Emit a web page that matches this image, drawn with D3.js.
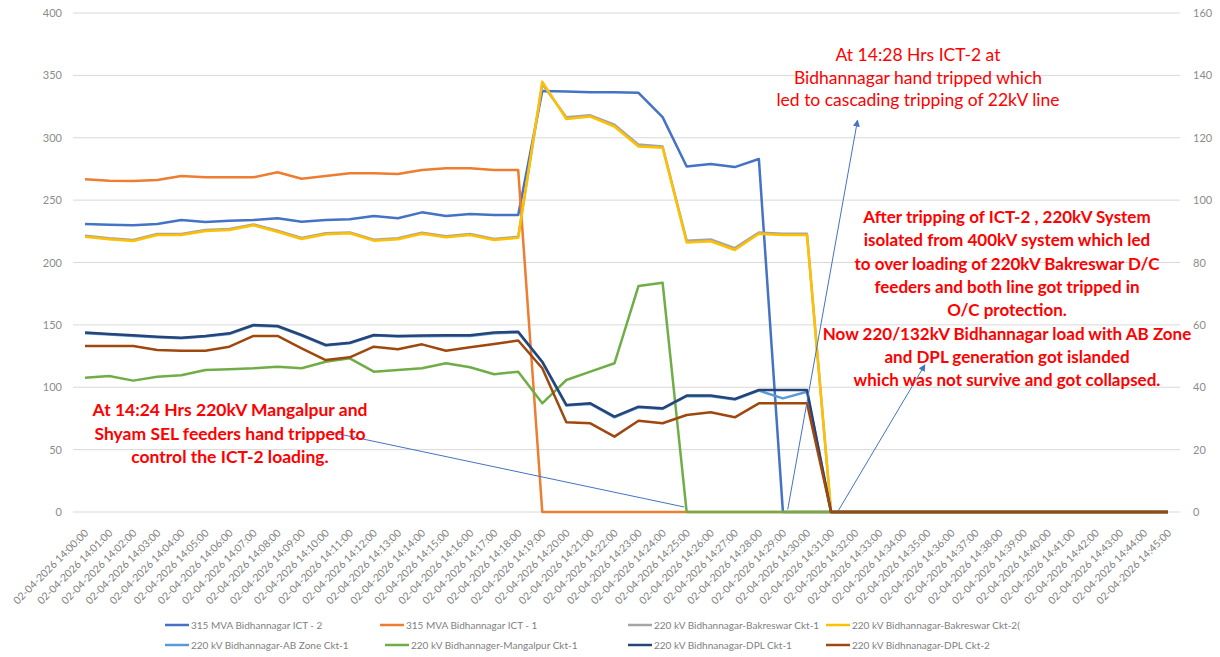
<!DOCTYPE html>
<html>
<head>
<meta charset="utf-8">
<script src="https://cdn.jsdelivr.net/npm/d3@7"></script>
<style>
  html, body { margin: 0; padding: 0; background: #fff; }
  svg { display: block; font-family: Lato, "Liberation Sans", sans-serif; }
</style>
</head>
<body>
<svg id="chart" width="1220" height="657"></svg>
<script>
const categories = [
  "02-04-2026 14:00:00","02-04-2026 14:01:00","02-04-2026 14:02:00","02-04-2026 14:03:00",
  "02-04-2026 14:04:00","02-04-2026 14:05:00","02-04-2026 14:06:00","02-04-2026 14:07:00",
  "02-04-2026 14:08:00","02-04-2026 14:09:00","02-04-2026 14:10:00","02-04-2026 14:11:00",
  "02-04-2026 14:12:00","02-04-2026 14:13:00","02-04-2026 14:14:00","02-04-2026 14:15:00",
  "02-04-2026 14:16:00","02-04-2026 14:17:00","02-04-2026 14:18:00","02-04-2026 14:19:00",
  "02-04-2026 14:20:00","02-04-2026 14:21:00","02-04-2026 14:22:00","02-04-2026 14:23:00",
  "02-04-2026 14:24:00","02-04-2026 14:25:00","02-04-2026 14:26:00","02-04-2026 14:27:00",
  "02-04-2026 14:28:00","02-04-2026 14:29:00","02-04-2026 14:30:00","02-04-2026 14:31:00",
  "02-04-2026 14:32:00","02-04-2026 14:33:00","02-04-2026 14:34:00","02-04-2026 14:35:00",
  "02-04-2026 14:36:00","02-04-2026 14:37:00","02-04-2026 14:38:00","02-04-2026 14:39:00",
  "02-04-2026 14:40:00","02-04-2026 14:41:00","02-04-2026 14:42:00","02-04-2026 14:43:00",
  "02-04-2026 14:44:00","02-04-2026 14:45:00"
];

const leftTicks = [0, 50, 100, 150, 200, 250, 300, 350, 400];
const rightTicks = [0, 20, 40, 60, 80, 100, 120, 140, 160];

const ict2 = [230.9,230.3,229.8,230.9,234.1,232.5,233.5,234.1,235.4,232.7,234.1,234.6,237.3,235.4,240.2,237.3,238.9,238.1,238.1,
  337.5,337,336.5,336.5,336,316.5,277,279,276.5,283,
  0,0,0,0,0,0,0,0,0,0,0,0,0,0,0,0,0];
const ict1 = [266.7,265.6,265.3,266.1,269.3,268.3,268.3,268.3,272.3,267.2,269.3,271.5,271.5,270.9,274.1,275.5,275.5,274.1,274.1,
  0,0,0,0,0,0,0,0,0,0,0,0,0,0,0,0,0,0,0,0,0,0,0,0,0,0,0];
const bak1 = [221.5,219.4,218,222.8,222.9,226,226.8,230.5,225.5,219.6,223.4,224.1,218.3,219.4,223.8,221,222.8,218.8,220.7,
  343,316.5,318,310.5,294.5,293,217.5,218.5,211.5,224,223,223,
  0,0,0,0,0,0,0,0,0,0,0,0,0,0,0];
const bak2 = [220.7,218.6,217.2,222,222,225.3,226,229.8,224.7,218.8,222.6,223.4,217.5,218.6,223,220.2,222,218,219.9,
  345,315,317,309,293,292,216,217,210,223,222,222,
  0,0,0,0,0,0,0,0,0,0,0,0,0,0,0];
const abZone = [143.3,142.2,141.1,140,139.2,140.6,142.7,149.4,148.6,141.4,133.4,135.2,141.4,140.6,140.9,141.1,141.1,143.3,144,
  120,85.3,86.6,75.9,83.9,82.6,92.8,92.8,90.1,97.3,91.1,96.4,
  0,0,0,0,0,0,0,0,0,0,0,0,0,0,0];
const mangalpur = [107.7,109,105.3,108.5,109.6,113.8,114.4,115.2,116.5,115.2,120.5,123.2,112.5,113.8,115.2,119.2,116,110.4,112.5,
  87.1,105.8,112.5,119.2,181.2,183.8,
  0,0,0,0,0,0,0,0,0,0,0,0,0,0,0,0,0,0,0,0,0];
const dpl1 = [143.8,142.7,141.6,140.5,139.7,141.1,143.2,149.9,149.1,141.9,133.9,135.7,141.9,141.1,141.4,141.6,141.6,143.8,144.5,
  120.5,85.8,87.1,76.4,84.4,83.1,93.3,93.3,90.6,97.8,97.8,97.8,
  0,0,0,0,0,0,0,0,0,0,0,0,0,0,0];
const dpl2 = [133.1,133.1,133.1,129.9,129.3,129.3,132.5,141.1,141.1,131.2,121.8,124,132.5,130.4,134.4,129.3,132,134.7,137.5,
  115.2,71.9,71.1,60.4,73.2,71.1,77.8,79.9,75.9,87.1,87.1,87.1,
  0,0,0,0,0,0,0,0,0,0,0,0,0,0,0];

const seriesNames = [
  "315 MVA Bidhannagar ICT - 2",
  "315 MVA Bidhannagar ICT - 1",
  "220 kV Bidhannagar-Bakreswar Ckt-1",
  "220 kV Bidhannagar-Bakreswar Ckt-2(",
  "220 kV Bidhannagar-AB Zone Ckt-1",
  "220 kV Bidhannager-Mangalpur Ckt-1",
  "220 kV Bidhnanagar-DPL Ckt-1",
  "220 kV Bidhnanagar-DPL Ckt-2"
];
const seriesValues = [ict2, ict1, bak1, bak2, abZone, mangalpur, dpl1, dpl2];
const seriesColors = ["#4472C4","#ED7D31","#A5A5A5","#FFC000","#5B9BD5","#70AD47","#264478","#9E480E"];

const annTop = ["At 14:28 Hrs ICT-2 at", "Bidhannagar hand tripped which", "led to cascading tripping of 22kV line"];
const annRight = ["After tripping of ICT-2 , 220kV System", "isolated from 400kV system which led",
  "to over loading of 220kV Bakreswar D/C", "feeders and both line got tripped in", "O/C protection.",
  "Now 220/132kV Bidhannagar load with AB Zone", "and DPL generation got islanded",
  "which was not survive and got collapsed."];
const annLeft = ["At 14:24 Hrs 220kV Mangalpur and", "Shyam SEL feeders hand tripped to", "control the ICT-2 loading."];

// ---------- layout ----------
const svg = d3.select("#chart");
const plotL = 73, plotR = 1180, plotT = 13, plotB = 512;

const x = d3.scalePoint().domain(categories).range([plotL, plotR]).padding(0.5);
const y = d3.scaleLinear().domain([0, 400]).range([plotB, plotT]);
const y2 = d3.scaleLinear().domain([0, 160]).range([plotB, plotT]);
const xi = d3.scaleLinear().domain([0, categories.length - 1])
  .range([x(categories[0]), x(categories[categories.length - 1])]);

// gridlines
svg.append("g").selectAll("line").data(leftTicks).join("line")
  .attr("x1", plotL).attr("x2", plotR)
  .attr("y1", d => y(d)).attr("y2", d => y(d))
  .attr("stroke", "#D9D9D9").attr("stroke-width", 1);

// left axis
const gl = svg.append("g").attr("transform", `translate(${plotL},0)`)
  .call(d3.axisLeft(y).tickValues(leftTicks).tickSize(0).tickPadding(11));
gl.select(".domain").remove();
gl.selectAll("text").attr("fill", "#8C8C8C").style("font-size", "11px").style("font-family", "Lato, sans-serif");

// right axis
const gr = svg.append("g").attr("transform", `translate(${plotR},0)`)
  .call(d3.axisRight(y2).tickValues(rightTicks).tickSize(0).tickPadding(13));
gr.select(".domain").remove();
gr.selectAll("text").attr("fill", "#8C8C8C").style("font-size", "11px").style("font-family", "Lato, sans-serif");

// x axis labels
const gx = svg.append("g").attr("transform", `translate(0,${plotB})`)
  .call(d3.axisBottom(x).tickSize(0).tickPadding(0));
gx.select(".domain").remove();
gx.selectAll(".tick text")
  .attr("fill", "#7F7F7F")
  .style("font-size", "10.5px").style("font-family", "Lato, sans-serif")
  .attr("text-anchor", "end")
  .attr("transform", "translate(1,19) rotate(-45)")
  .attr("dy", "0.35em").attr("y", 0).attr("x", 0);

// lines
const line = d3.line().x((d, i) => x(categories[i])).y(d => y(d));
svg.append("g").selectAll("path").data(seriesValues).join("path")
  .attr("d", d => line(d))
  .attr("fill", "none")
  .attr("stroke", (d, i) => seriesColors[i])
  .attr("stroke-width", 2.5)
  .attr("stroke-linejoin", "round");

// arrows
const defs = svg.append("defs");
defs.append("marker").attr("id", "arr").attr("viewBox", "0 0 10 10")
  .attr("refX", 9).attr("refY", 5).attr("markerWidth", 7).attr("markerHeight", 7)
  .attr("orient", "auto-start-reverse")
  .append("path").attr("d", "M0,0 L10,5 L0,10 z").attr("fill", "#4472C4");

const arrows = [
  {x1: 10.2, v1: 64, x2: 24.9, v2: 4, head: false},
  {x1: 29.2, v1: 2, x2: 32.1, v2: 314, head: true},
  {x1: 31.3, v1: 1, x2: 34.9, v2: 118, head: true}
];
svg.append("g").selectAll("line").data(arrows).join("line")
  .attr("x1", d => xi(d.x1)).attr("y1", d => y(d.v1))
  .attr("x2", d => xi(d.x2)).attr("y2", d => y(d.v2))
  .attr("stroke", "#4472C4").attr("stroke-width", 1)
  .attr("marker-end", d => d.head ? "url(#arr)" : null);

// annotations
function block(lines, cx, y0, dy, weight, size) {
  svg.append("g").selectAll("text").data(lines).join("text")
    .attr("x", cx).attr("y", (d, i) => y0 + i * dy)
    .attr("text-anchor", "middle")
    .attr("fill", "#FF0000")
    .style("font-weight", weight)
    .style("font-size", size + "px")
    .style("font-family", "Lato, sans-serif")
    .text(d => d);
}
block(annTop, 918, 61, 22.5, "normal", 17.5);
block(annRight, 1007, 223, 23.3, "bold", 17);
block(annLeft, 230, 416, 23.5, "bold", 17.5);

// legend
const legendPos = [
  {lx: 165, ly: 625}, {lx: 380, ly: 625}, {lx: 628, ly: 625}, {lx: 826, ly: 625},
  {lx: 165, ly: 645}, {lx: 385, ly: 645}, {lx: 628, ly: 645}, {lx: 826, ly: 645}
];
const lg = svg.append("g").selectAll("g").data(seriesNames).join("g")
  .attr("transform", (d, i) => `translate(${legendPos[i].lx},${legendPos[i].ly})`);
lg.append("line").attr("x1", 0).attr("x2", 24).attr("y1", 0).attr("y2", 0)
  .attr("stroke", (d, i) => seriesColors[i]).attr("stroke-width", 2.5);
lg.append("text").attr("x", 26).attr("y", 0).attr("dy", "0.35em")
  .attr("fill", "#7F7F7F").style("font-size", "10px").style("font-family", "Lato, sans-serif")
  .text(d => d);
</script>
</body>
</html>
